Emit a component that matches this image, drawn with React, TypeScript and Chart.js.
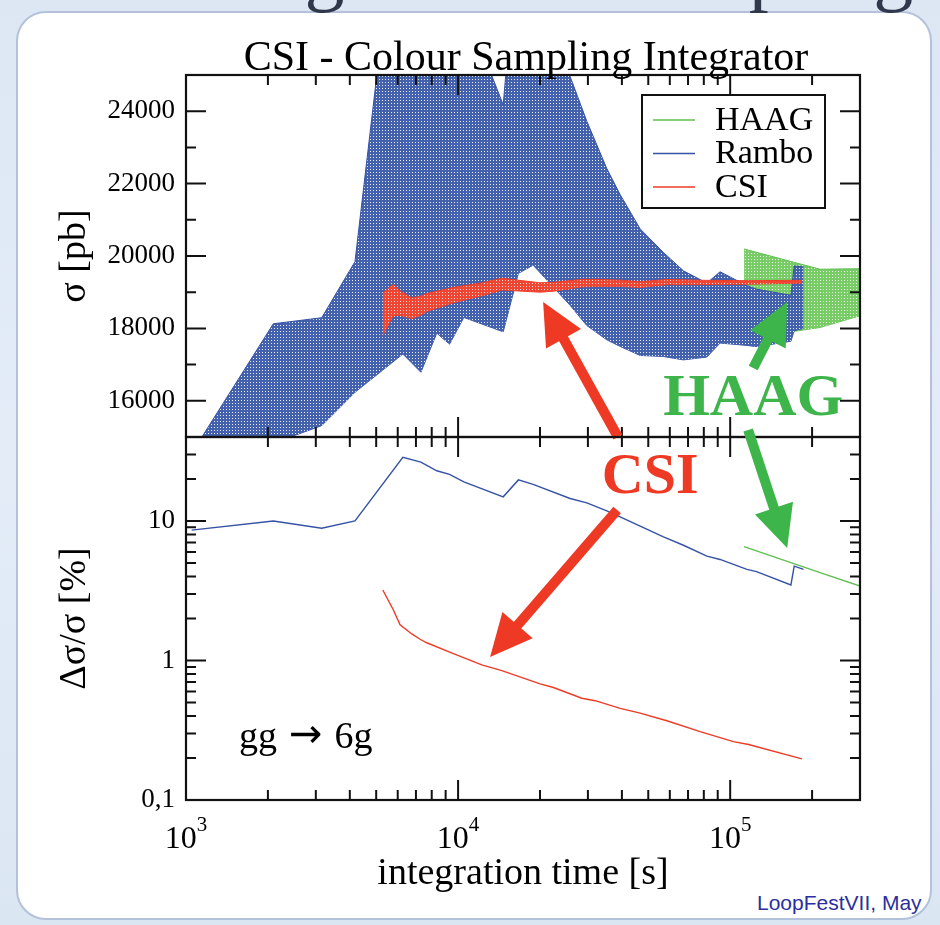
import React, { useEffect, useRef } from 'react';
import { Chart, registerables } from 'chart.js';

Chart.register(...registerables);

const SERIF = "'Liberation Serif', 'Times New Roman', serif";

// ---------------- data ----------------
// Rambo: integration time [s], cross section [pb], relative error [%]
const ramboTime = [1049, 2094, 3153, 4179, 6266, 7300, 8350, 9300, 10500, 14650, 16660, 18870, 25800, 29730, 35200, 39400, 46690, 56860, 67330, 82100, 91800, 115200, 125000, 167200, 171900, 186000];
const ramboSigma = [13400, 16480, 16804, 18040, 24218, 22810, 23177, 22403, 22624, 21041, 24309, 24171, 21800, 20900, 20050, 19600, 19000, 18660, 18360, 18230, 18580, 18355, 18290, 18280, 18830, 18850];
const ramboErr = [8.6, 10.0, 8.87, 10.0, 28.6, 26.4, 22.9, 21.6, 19.1, 14.9, 19.7, 18.3, 14.5, 13.5, 11.8, 10.7, 9.2, 7.7, 6.7, 5.6, 5.3, 4.5, 4.34, 3.48, 4.75, 4.5];

// CSI
const csiTime = [5287, 5783, 6120, 6758, 7250, 7672, 9610, 12220, 14480, 20020, 22410, 28500, 31890, 39420, 46690, 58530, 77570, 102800, 116800, 183500];
const csiSigma = [18393, 18785, 18700, 18555, 18620, 18715, 18920, 19080, 19222, 19130, 19150, 19250, 19255, 19245, 19210, 19280, 19270, 19270, 19270, 19290];
const csiErr = [3.2, 2.3, 1.8, 1.55, 1.42, 1.34, 1.12, 0.93, 0.845, 0.68, 0.64, 0.536, 0.515, 0.454, 0.42, 0.37, 0.309, 0.262, 0.25, 0.197];

// HAAG
const haagTime = [112500, 214000, 300000];
const haagSigma = [18952, 18830, 19000];
const haagErr = [6.55, 4.27, 3.42];

const seriesNames = ['HAAG', 'Rambo', 'CSI'];

// axes / ticks
const xMin = 1000;
const xMax = 300000;
const sigmaMin = 15000;
const sigmaMax = 25000;
const errMin = 0.1;
const errMax = 40;
const xMajorTicks = [1e3, 1e4, 1e5];
const xExponents = ['3', '4', '5'];
const xMinorTicks = [2e3, 3e3, 4e3, 5e3, 6e3, 7e3, 8e3, 9e3, 2e4, 3e4, 4e4, 5e4, 6e4, 7e4, 8e4, 9e4, 2e5, 3e5];
const sigmaMajorTicks = [16000, 18000, 20000, 22000, 24000];
const sigmaMinorTicks = [15000, 17000, 19000, 21000, 23000, 25000];
const errMajorTicks = [0.1, 1, 10];
const errMinorTicks = [0.2, 0.3, 0.4, 0.5, 0.6, 0.7, 0.8, 0.9, 2, 3, 4, 5, 6, 7, 8, 9, 20, 30];

// annotations (data coordinates)
const topArrows = [
  { color: 'red', from: [38700, 15000], to: [20540, 18729] },
  { color: 'green', from: [121500, 16906], to: [162000, 18729] },
];
const bottomArrows = [
  { color: 'red', from: [38420, 12.0], to: [13110, 1.06] },
  { color: 'green', from: [116400, 44.9], to: [162000, 6.4] },
];
const haagLabelAt = [121500, 15608];
const csiLabelAt = [50800, 15.9];
const processLabelAt = [1566, 0.236];

// ---------------- styles ----------------
const RED = '#ee3b26';
const BLUE = '#3552a4';
const GREEN = '#5fbf4f';
const ARROW = { red: '#ee3a24', green: '#3db54a' } as any;

function makePattern(base: string, dot: string) {
  const c = document.createElement('canvas');
  c.width = 3;
  c.height = 3;
  const g = c.getContext('2d') as CanvasRenderingContext2D;
  g.fillStyle = base;
  g.fillRect(0, 0, 3, 3);
  g.fillStyle = dot;
  g.fillRect(1, 1, 1, 1);
  return g.createPattern(c, 'repeat') as CanvasPattern;
}

const pts = (t: number[], v: number[]) => t.map((x, i) => ({ x, y: v[i] }));
const band = (t: number[], s: number[], e: number[], sign: number) =>
  t.map((x, i) => ({ x, y: s[i] * (1 + (sign * e[i]) / 100) }));

function drawArrow(ctx: CanvasRenderingContext2D, x1: number, y1: number, x2: number, y2: number, color: string) {
  const dx = x2 - x1, dy = y2 - y1;
  const L = Math.hypot(dx, dy);
  const ux = dx / L, uy = dy / L;
  const headLen = 42, headHalf = 20;
  const bx = x2 - ux * headLen, by = y2 - uy * headLen;
  ctx.save();
  ctx.strokeStyle = color;
  ctx.lineWidth = 10;
  ctx.lineCap = 'butt';
  ctx.beginPath();
  ctx.moveTo(x1, y1);
  ctx.lineTo(bx + ux * 4, by + uy * 4);
  ctx.stroke();
  ctx.fillStyle = color;
  ctx.beginPath();
  ctx.moveTo(x2, y2);
  ctx.lineTo(bx - uy * headHalf, by + ux * headHalf);
  ctx.lineTo(bx + uy * headHalf, by - ux * headHalf);
  ctx.closePath();
  ctx.fill();
  ctx.restore();
}

function frameTicksPlugin(yMajor: number[], yMinor: number[]) {
  return {
    id: 'frameTicks',
    afterDraw(chart: any) {
      const { ctx, chartArea: a } = chart;
      const xs = chart.scales.x, ys = chart.scales.y;
      ctx.save();
      ctx.strokeStyle = '#111';
      ctx.lineWidth = 2;
      ctx.beginPath();
      const xt = (v: number, len: number) => {
        const p = xs.getPixelForValue(v);
        if (p < a.left - 0.5 || p > a.right + 0.5) return;
        ctx.moveTo(p, a.top); ctx.lineTo(p, a.top + len);
        ctx.moveTo(p, a.bottom); ctx.lineTo(p, a.bottom - len);
      };
      const yt = (v: number, len: number) => {
        const p = ys.getPixelForValue(v);
        if (p < a.top - 0.5 || p > a.bottom + 0.5) return;
        ctx.moveTo(a.left, p); ctx.lineTo(a.left + len, p);
        ctx.moveTo(a.right, p); ctx.lineTo(a.right - len, p);
      };
      xMajorTicks.forEach((v) => xt(v, 20));
      xMinorTicks.forEach((v) => xt(v, 10));
      yMajor.forEach((v) => yt(v, 20));
      yMinor.forEach((v) => yt(v, 10));
      ctx.stroke();
      ctx.lineWidth = 2.2;
      ctx.strokeRect(a.left, a.top, a.right - a.left, a.bottom - a.top);
      ctx.restore();
    },
  };
}

const topDecor = {
  id: 'topDecor',
  afterDraw(chart: any) {
    const { ctx, chartArea: a } = chart;
    const xs = chart.scales.x, ys = chart.scales.y;
    ctx.save();
    // slide title (cut off at the top of the page)
    ctx.fillStyle = '#30384c';
    ctx.font = `80px ${SERIF}`;
    ctx.textAlign = 'left';
    ctx.textBaseline = 'alphabetic';
    ctx.fillText('Testing Colour Sampling', 110, -4);
    // plot title
    ctx.fillStyle = '#000';
    ctx.font = `42px ${SERIF}`;
    ctx.textAlign = 'center';
    ctx.fillText('CSI - Colour Sampling Integrator', (a.left + a.right) / 2 + 3, 70);
    // legend
    const bx = a.right - 218, by = a.top + 20, bw = 183, bh = 113;
    ctx.fillStyle = '#fff';
    ctx.fillRect(bx, by, bw, bh);
    ctx.strokeStyle = '#111';
    ctx.lineWidth = 2;
    ctx.strokeRect(bx, by, bw, bh);
    const cols = [GREEN, BLUE, RED];
    ctx.font = `34px ${SERIF}`;
    ctx.textAlign = 'left';
    ctx.textBaseline = 'middle';
    seriesNames.forEach((n, i) => {
      const y = by + 25 + i * 33.5;
      ctx.strokeStyle = cols[i];
      ctx.lineWidth = 1.6;
      ctx.beginPath();
      ctx.moveTo(bx + 11, y);
      ctx.lineTo(bx + 53, y);
      ctx.stroke();
      ctx.fillStyle = '#000';
      ctx.fillText(n, bx + 73, y + 1);
    });
    // annotations
    topArrows.forEach((ar) => {
      drawArrow(ctx, xs.getPixelForValue(ar.from[0]), ys.getPixelForValue(ar.from[1]),
        xs.getPixelForValue(ar.to[0]), ys.getPixelForValue(ar.to[1]), ARROW[ar.color]);
    });
    ctx.fillStyle = ARROW.green;
    ctx.font = `bold 60px ${SERIF}`;
    ctx.textAlign = 'center';
    ctx.textBaseline = 'alphabetic';
    ctx.fillText('HAAG', xs.getPixelForValue(haagLabelAt[0]), ys.getPixelForValue(haagLabelAt[1]));
    ctx.restore();
  },
};

const bottomDecor = {
  id: 'bottomDecor',
  afterDraw(chart: any) {
    const { ctx, chartArea: a } = chart;
    const xs = chart.scales.x, ys = chart.scales.y;
    ctx.save();
    // x tick labels 10^n
    ctx.fillStyle = '#000';
    ctx.textBaseline = 'alphabetic';
    ctx.textAlign = 'left';
    xMajorTicks.forEach((v, i) => {
      const p = xs.getPixelForValue(v);
      ctx.font = `32px ${SERIF}`;
      const w1 = ctx.measureText('10').width;
      ctx.font = `21px ${SERIF}`;
      const w2 = ctx.measureText(xExponents[i]).width;
      const x0 = p - (w1 + w2) / 2;
      ctx.font = `32px ${SERIF}`;
      ctx.fillText('10', x0, a.bottom + 48);
      ctx.font = `21px ${SERIF}`;
      ctx.fillText(xExponents[i], x0 + w1, a.bottom + 31);
    });
    // process label: gg -> 6g
    let px = xs.getPixelForValue(processLabelAt[0]);
    const py = ys.getPixelForValue(processLabelAt[1]);
    ctx.font = `38px ${SERIF}`;
    ctx.fillText('gg', px, py);
    px += ctx.measureText('gg').width + 12;
    ctx.font = `40px 'DejaVu Sans', sans-serif`;
    ctx.fillText('\u2192', px, py - 1);
    px += ctx.measureText('\u2192').width + 12;
    ctx.font = `38px ${SERIF}`;
    ctx.fillText('6g', px, py);
    // arrows
    bottomArrows.forEach((ar) => {
      drawArrow(ctx, xs.getPixelForValue(ar.from[0]), ys.getPixelForValue(ar.from[1]),
        xs.getPixelForValue(ar.to[0]), ys.getPixelForValue(ar.to[1]), ARROW[ar.color]);
    });
    ctx.fillStyle = ARROW.red;
    ctx.font = `bold 58px ${SERIF}`;
    ctx.textAlign = 'center';
    ctx.fillText('CSI', xs.getPixelForValue(csiLabelAt[0]), ys.getPixelForValue(csiLabelAt[1]));
    ctx.restore();
  },
};

export default function App() {
  const topRef = useRef<HTMLCanvasElement>(null);
  const botRef = useRef<HTMLCanvasElement>(null);

  useEffect(() => {
    const redPat = makePattern('#ef4634', '#ffe2dc');
    const bluePat = makePattern('#4461ae', '#e8eef9');
    const greenPat = makePattern('#78cc66', '#eefaea');
    const lineBase = { pointRadius: 0, tension: 0, borderWidth: 1 };

    const tickFont = { family: SERIF, size: 27 };
    const titleFont = { family: SERIF, size: 38, lineHeight: 1 };

    const top = new Chart(topRef.current as HTMLCanvasElement, {
      type: 'line',
      data: {
        datasets: [
          { ...lineBase, data: band(csiTime, csiSigma, csiErr, 1), borderColor: RED, backgroundColor: redPat, fill: 1, order: 0 },
          { ...lineBase, data: band(csiTime, csiSigma, csiErr, -1), borderColor: RED, fill: false, order: 0 },
          { ...lineBase, data: pts(csiTime, csiSigma), borderColor: '#d92a18', fill: false, order: 0 },
          { ...lineBase, data: band(ramboTime, ramboSigma, ramboErr, 1), borderColor: BLUE, backgroundColor: bluePat, fill: 4, order: 1 },
          { ...lineBase, data: band(ramboTime, ramboSigma, ramboErr, -1), borderColor: BLUE, fill: false, order: 1 },
          { ...lineBase, data: pts(ramboTime, ramboSigma), borderColor: '#25418f', fill: false, order: 1 },
          { ...lineBase, data: band(haagTime, haagSigma, haagErr, 1), borderColor: GREEN, backgroundColor: greenPat, fill: 7, order: 2 },
          { ...lineBase, data: band(haagTime, haagSigma, haagErr, -1), borderColor: GREEN, fill: false, order: 2 },
          { ...lineBase, data: pts(haagTime, haagSigma), borderColor: GREEN, fill: false, order: 2 },
        ] as any,
      },
      options: {
        responsive: false,
        animation: false,
        devicePixelRatio: 1,
        events: [],
        layout: { padding: { left: 0, right: 80, top: 75, bottom: 488 } },
        plugins: { legend: { display: false }, tooltip: { enabled: false }, title: { display: false } },
        scales: {
          x: { type: 'logarithmic', min: xMin, max: xMax, display: false },
          y: {
            type: 'linear',
            min: sigmaMin,
            max: sigmaMax,
            grid: { display: false, drawTicks: false },
            border: { display: false },
            afterBuildTicks: (s: any) => { s.ticks = sigmaMajorTicks.map((v) => ({ value: v })); },
            afterFit: (s: any) => { s.width = 186; },
            ticks: { font: tickFont, color: '#000', padding: 11, autoSkip: false, callback: (v: any) => String(v) },
            title: { display: true, text: '\u03c3 [pb]', font: titleFont, color: '#000', padding: { top: 56, bottom: 0 } },
          },
        },
      } as any,
      plugins: [frameTicksPlugin(sigmaMajorTicks, sigmaMinorTicks), topDecor],
    });

    const bottom = new Chart(botRef.current as HTMLCanvasElement, {
      type: 'line',
      data: {
        datasets: [
          { ...lineBase, borderWidth: 1.4, data: pts(csiTime, csiErr), borderColor: RED, fill: false, order: 0 },
          { ...lineBase, borderWidth: 1.4, data: pts(ramboTime, ramboErr), borderColor: BLUE, fill: false, order: 1 },
          { ...lineBase, borderWidth: 1.4, data: pts(haagTime, haagErr), borderColor: GREEN, fill: false, order: 2 },
        ] as any,
      },
      options: {
        responsive: false,
        animation: false,
        devicePixelRatio: 1,
        events: [],
        layout: { padding: { left: 0, right: 80, top: 437, bottom: 0 } },
        plugins: { legend: { display: false }, tooltip: { enabled: false }, title: { display: false } },
        scales: {
          x: {
            type: 'logarithmic',
            min: xMin,
            max: xMax,
            grid: { display: false, drawTicks: false },
            border: { display: false },
            ticks: { display: false },
            afterFit: (s: any) => { s.height = 125; },
            title: { display: true, text: 'integration time [s]', font: titleFont, color: '#000', padding: { top: 0, bottom: 32 } },
          },
          y: {
            type: 'logarithmic',
            min: errMin,
            max: errMax,
            grid: { display: false, drawTicks: false },
            border: { display: false },
            afterBuildTicks: (s: any) => { s.ticks = errMajorTicks.map((v) => ({ value: v })); },
            afterFit: (s: any) => { s.width = 186; },
            ticks: { font: tickFont, color: '#000', padding: 11, autoSkip: false, callback: (v: any) => (v === 0.1 ? '0,1' : String(v)) },
            title: { display: true, text: '\u0394\u03c3/\u03c3 [%]', font: titleFont, color: '#000', padding: { top: 56, bottom: 0 } },
          },
        },
      } as any,
      plugins: [frameTicksPlugin(errMajorTicks, errMinorTicks), bottomDecor],
    });

    return () => {
      top.destroy();
      bottom.destroy();
    };
  }, []);

  return (
    <div style={{ position: 'fixed', left: 0, top: 0, width: 940, height: 925, overflow: 'hidden', background: 'linear-gradient(180deg, #dde7f4 0%, #e3ecf7 50%, #dbe6f3 100%)' }}>
      <div style={{ position: 'absolute', left: 16, top: 11, width: 916, height: 909, boxSizing: 'border-box', background: '#fff', border: '2px solid #b3c2da', borderRadius: 30, overflow: 'hidden' }}>
        <div style={{ position: 'absolute', left: 739, top: 879, fontFamily: "'Liberation Sans', Arial, sans-serif", fontSize: 21, lineHeight: 1, color: '#2b2f9e', whiteSpace: 'nowrap' }}>
          LoopFestVII, May
        </div>
      </div>
      <canvas ref={topRef} width={940} height={925} style={{ position: 'absolute', left: 0, top: 0, width: 940, height: 925 }} />
      <canvas ref={botRef} width={940} height={925} style={{ position: 'absolute', left: 0, top: 0, width: 940, height: 925 }} />
    </div>
  );
}
